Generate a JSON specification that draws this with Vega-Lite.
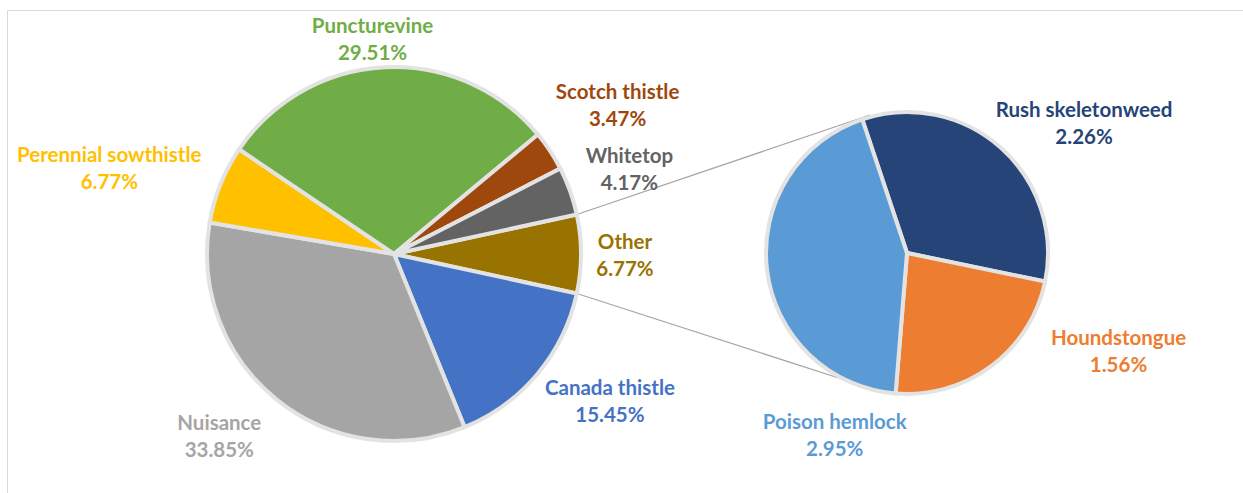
{
  "$schema": "https://vega.github.io/schema/vega-lite/v6.json",
  "width": 1243,
  "height": 493,
  "autosize": {"type": "fit", "contains": "padding"},
  "padding": {"left": 7, "top": 10, "right": 0, "bottom": 0},
  "background": "white",
  "config": {
    "view": {"stroke": "#d9d9d9", "strokeWidth": 1},
    "text": {"font": "Lato", "fontWeight": "bold", "fontSize": 20.5}
  },
  "datasets": {
    "slices": [
      {"pie": "main", "name": "Other", "pct": 0.0677, "ord": 1},
      {"pie": "main", "name": "Canada thistle", "pct": 0.1545, "ord": 2},
      {"pie": "main", "name": "Nuisance", "pct": 0.3385, "ord": 3},
      {"pie": "main", "name": "Perennial sowthistle", "pct": 0.0677, "ord": 4},
      {"pie": "main", "name": "Puncturevine", "pct": 0.2951, "ord": 5},
      {"pie": "main", "name": "Scotch thistle", "pct": 0.0347, "ord": 6},
      {"pie": "main", "name": "Whitetop", "pct": 0.0417, "ord": 7},
      {"pie": "detail", "name": "Rush skeletonweed", "pct": 0.0226, "ord": 1},
      {"pie": "detail", "name": "Houndstongue", "pct": 0.0156, "ord": 2},
      {"pie": "detail", "name": "Poison hemlock", "pct": 0.0295, "ord": 3}
    ],
    "connectors": [
      {"x": 569.8, "y": 204.5, "x2": 863, "y2": 105},
      {"x": 569.8, "y": 283.5, "x2": 841, "y2": 371}
    ]
  },
  "resolve": {"scale": {"x": "independent", "y": "independent", "theta": "independent"}},
  "layer": [
    {
      "data": {"name": "connectors"},
      "mark": {"type": "rule", "color": "#a6a6a6", "strokeWidth": 1.3},
      "encoding": {
        "x": {"field": "x", "type": "quantitative", "scale": {"domain": [0, 1236], "nice": false, "zero": false}, "axis": null},
        "x2": {"field": "x2"},
        "y": {"field": "y", "type": "quantitative", "scale": {"domain": [483, 0], "nice": false, "zero": false}, "axis": null},
        "y2": {"field": "y2"}
      }
    },
    {
      "data": {"name": "slices"},
      "transform": [{"filter": "datum.pie === 'main'"}],
      "encoding": {
        "theta": {"field": "pct", "type": "quantitative", "stack": true, "scale": {"range": [1.3581, 7.6413]}},
        "order": {"field": "ord", "type": "quantitative"},
        "color": {
          "field": "name", "type": "nominal", "legend": null,
          "scale": {
            "domain": ["Other", "Canada thistle", "Nuisance", "Perennial sowthistle", "Puncturevine", "Scotch thistle", "Whitetop", "Rush skeletonweed", "Houndstongue", "Poison hemlock"],
            "range": ["#997300", "#4472C4", "#A5A5A5", "#FFC000", "#70AD47", "#9E480E", "#636363", "#264478", "#ED7D31", "#5B9BD5"]
          }
        },
        "x": {"field": "pie", "type": "nominal", "scale": {"type": "point", "domain": ["main", "detail"], "range": [387, 900], "padding": 0}, "axis": null},
        "y": {"field": "pie", "type": "nominal", "scale": {"type": "point", "domain": ["main", "detail"], "range": [244, 243], "padding": 0}, "axis": null}
      },
      "layer": [
        {"mark": {"type": "arc", "outerRadius": 187, "stroke": "#e3e3e3", "strokeWidth": 4}},
        {
          "mark": {
            "type": "text",
            "radius": {"expr": "({'Puncturevine':214,'Scotch thistle':268,'Whitetop':250,'Other':231,'Canada thistle':261,'Nuisance':252,'Perennial sowthistle':296})[datum.name]"},
            "dx": {"expr": "({'Puncturevine':-11,'Canada thistle':16,'Nuisance':-17,'Perennial sowthistle':-10})[datum.name] || 0"},
            "dy": {"expr": "(({'Other':2,'Canada thistle':-20,'Nuisance':-14,'Perennial sowthistle':25})[datum.name] || 0) - 13"}
          },
          "encoding": {"text": {"field": "name", "type": "nominal"}}
        },
        {
          "mark": {
            "type": "text",
            "radius": {"expr": "({'Puncturevine':214,'Scotch thistle':268,'Whitetop':250,'Other':231,'Canada thistle':261,'Nuisance':252,'Perennial sowthistle':296})[datum.name]"},
            "dx": {"expr": "({'Puncturevine':-11,'Canada thistle':16,'Nuisance':-17,'Perennial sowthistle':-10})[datum.name] || 0"},
            "dy": {"expr": "(({'Other':2,'Canada thistle':-20,'Nuisance':-14,'Perennial sowthistle':25})[datum.name] || 0) + 14"}
          },
          "encoding": {"text": {"field": "pct", "type": "quantitative", "format": ".2%"}}
        }
      ]
    },
    {
      "data": {"name": "slices"},
      "transform": [{"filter": "datum.pie === 'detail'"}],
      "encoding": {
        "theta": {"field": "pct", "type": "quantitative", "stack": true, "scale": {"range": [-0.3229, 5.9603]}},
        "order": {"field": "ord", "type": "quantitative"},
        "color": {"field": "name", "type": "nominal", "legend": null},
        "x": {"field": "pie", "type": "nominal", "scale": {"type": "point", "domain": ["main", "detail"], "range": [387, 900], "padding": 0}, "axis": null},
        "y": {"field": "pie", "type": "nominal", "scale": {"type": "point", "domain": ["main", "detail"], "range": [244, 243], "padding": 0}, "axis": null}
      },
      "layer": [
        {"mark": {"type": "arc", "outerRadius": 141, "stroke": "#e3e3e3", "strokeWidth": 4}},
        {
          "mark": {
            "type": "text",
            "radius": {"expr": "({'Rush skeletonweed':214,'Houndstongue':206,'Poison hemlock':94})[datum.name]"},
            "dx": {"expr": "({'Rush skeletonweed':35,'Houndstongue':88,'Poison hemlock':21})[datum.name]"},
            "dy": {"expr": "({'Rush skeletonweed':31,'Houndstongue':-66,'Poison hemlock':172})[datum.name] - 13"}
          },
          "encoding": {"text": {"field": "name", "type": "nominal"}}
        },
        {
          "mark": {
            "type": "text",
            "radius": {"expr": "({'Rush skeletonweed':214,'Houndstongue':206,'Poison hemlock':94})[datum.name]"},
            "dx": {"expr": "({'Rush skeletonweed':35,'Houndstongue':88,'Poison hemlock':21})[datum.name]"},
            "dy": {"expr": "({'Rush skeletonweed':31,'Houndstongue':-66,'Poison hemlock':172})[datum.name] + 14"}
          },
          "encoding": {"text": {"field": "pct", "type": "quantitative", "format": ".2%"}}
        }
      ]
    }
  ]
}
